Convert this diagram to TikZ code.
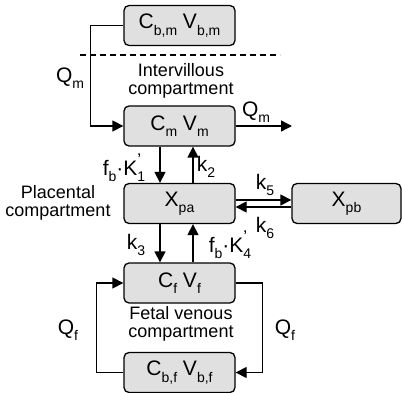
\documentclass[tikz,border=0pt]{standalone}
\usepackage{fontspec}
\setmainfont{Liberation Sans}
\usetikzlibrary{arrows.meta}
\definecolor{boxgray}{HTML}{E0E0E0}
\newcommand{\sbs}[1]{\raisebox{-0.3em}{\fontsize{14}{14}\selectfont #1}}
\newcommand{\sbsp}[2]{\rlap{\raisebox{-0.3em}{\fontsize{14}{14}\selectfont #1}}\raisebox{0.45em}{\fontsize{17}{17}\selectfont #2}\hspace{0.3em}}
\begin{document}
\begin{tikzpicture}[x=1pt,y=-1pt, line width=1.3pt,
 box/.style={draw, rounded corners=5pt, fill=boxgray, minimum width=111pt, minimum height=40pt, inner sep=0pt, font=\fontsize{21}{24}\selectfont},
 lbl/.style={font=\fontsize{21}{24}\selectfont, inner sep=0pt},
 txt/.style={font=\fontsize{18}{18}\selectfont, align=center, inner sep=0pt},
 arr/.style={-{Triangle[length=11pt,width=11pt]}}]
\useasboundingbox (0,0) rectangle (402,393);
\node[box] (cbm) at (179.5,25.5) {C\sbs{b,m} V\sbs{b,m}};
\node[box] (cm) at (179.5,126) {C\sbs{m} V\sbs{m}};
\node[box] (xpa) at (179.5,203.5) {X\sbs{pa}};
\node[box, minimum width=109pt] (xpb) at (346.5,203.5) {X\sbs{pb}};
\node[box] (cf) at (179.5,283) {C\sbs{f} V\sbs{f}};
\node[box] (cbf) at (179.5,372.5) {C\sbs{b,f} V\sbs{b,f}};
\coordinate (dl) at (80,55);
\coordinate (dr) at (280,55);
\draw[line width=1.1pt, dash pattern=on 6pt off 4pt] (dl) -- (dr);
\draw[arr] (cbm.west) -- ++(-33,0) |- (cm.west);
\coordinate (qout) at (292,126);
\draw[arr] (cm.east) -- (qout);
\node[lbl] (qm1) at (70,78) {Q\sbs{m}};
\node[lbl] (qm2) at (256,112) {Q\sbs{m}};
\node[txt] (iv) at (181,81) {Intervillous\\compartment};
\draw[arr] ([xshift=-19.5pt]cm.south) -- ([xshift=-19.5pt]xpa.north);
\draw[arr] ([xshift=13.5pt]xpa.north) -- ([xshift=13.5pt]cm.south);
\node[lbl] (k1) at (122,168) {f\sbs{b}·K\sbsp{1}{’}};
\node[lbl] (k2) at (206,167) {k\sbs{2}};
\node[txt] (pl) at (58,203) {Placental\\compartment};
\draw[arr] ([yshift=3.5pt]xpa.east) -- ([yshift=3.5pt]xpb.west);
\draw[arr] ([yshift=-3.5pt]xpb.west) -- ([yshift=-3.5pt]xpa.east);
\node[lbl] (k5) at (265,185) {k\sbs{5}};
\node[lbl] (k6) at (265,228) {k\sbs{6}};
\draw[arr] ([xshift=-19.5pt]xpa.south) -- ([xshift=-19.5pt]cf.north);
\draw[arr] ([xshift=13.5pt]cf.north) -- ([xshift=13.5pt]xpa.south);
\node[lbl] (k3) at (136,245) {k\sbs{3}};
\node[lbl] (k4) at (228,245) {f\sbs{b}·K\sbsp{4}{’}};
\node[txt] (fv) at (181,324) {Fetal venous\\compartment};
\draw[arr] (cbf.west) -- ++(-27,0) |- (cf.west);
\draw[arr] (cf.east) -- ++(27,0) |- (cbf.east);
\node[lbl] (qf1) at (68,330) {Q\sbs{f}};
\node[lbl] (qf2) at (285,330) {Q\sbs{f}};
\end{tikzpicture}
\end{document}
